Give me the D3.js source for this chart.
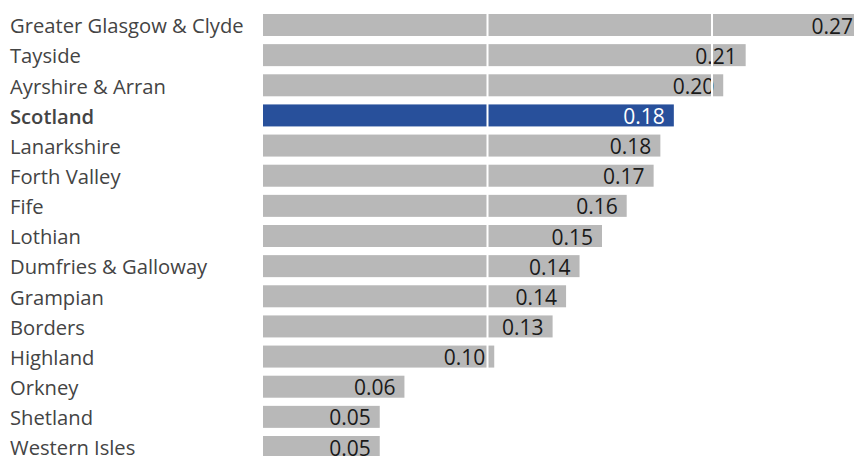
<!DOCTYPE html>
<html>
<head>
<meta charset="utf-8">
<script src="https://cdn.jsdelivr.net/npm/d3@7"></script>
<style>
  body { margin: 0; background: #fff; }
  svg { display: block; }
</style>
</head>
<body>
<svg id="chart" width="854" height="456"></svg>
<script>
const boards = ["Greater Glasgow & Clyde", "Tayside", "Ayrshire & Arran", "Scotland", "Lanarkshire",
  "Forth Valley", "Fife", "Lothian", "Dumfries & Galloway", "Grampian", "Borders", "Highland",
  "Orkney", "Shetland", "Western Isles"]
const rates = [0.272, 0.215, 0.205, 0.183, 0.177, 0.174, 0.162, 0.151, 0.141, 0.135, 0.129, 0.103, 0.063, 0.052, 0.052]
const gridTicks = [0.1, 0.2]
const highlight = "Scotland"

const svg = d3.select("#chart")
const width = +svg.attr("width")
const data = boards.map((b, i) => ({ name: b, value: rates[i] }))

const x = d3.scaleLinear().domain([0, 0.2]).range([263, 712])
const y = d3.scaleBand().domain(boards).range([14, 458]).paddingInner(0.27).paddingOuter(0)

// category names on the left
svg.append("g").selectAll("text")
  .data(data)
  .join("text")
    .attr("x", 10)
    .attr("y", d => y(d.name) + y.bandwidth() - 2.7)
    .attr("font-family", "'Open Sans', sans-serif")
    .attr("font-size", 20.2)
    .attr("font-weight", d => d.name === highlight ? 600 : "normal")
    .attr("fill", "#444")
    .text(d => d.name)

svg.append("g").selectAll("rect")
  .data(data)
  .join("rect")
    .attr("x", x(0))
    .attr("y", d => y(d.name))
    .attr("width", d => x(d.value) - x(0))
    .attr("height", y.bandwidth())
    .attr("fill", d => d.name === highlight ? "#28509b" : "#b8b8b8")

svg.append("g").selectAll("text")
  .data(data)
  .join("text")
    .attr("x", d => Math.min(x(d.value) - 9, width - 1))
    .attr("y", d => y(d.name) + y.bandwidth() - 2.5)
    .attr("text-anchor", "end")
    .attr("font-family", "'Open Sans', sans-serif")
    .attr("font-size", 21)
    .attr("fill", d => d.name === highlight ? "#fff" : "#1a1a1a")
    .text(d => d3.format(".2f")(d.value))

// white gridlines sit over bars and labels
svg.append("g").selectAll("line")
  .data(gridTicks)
  .join("line")
    .attr("x1", d => x(d)).attr("x2", d => x(d))
    .attr("y1", y.range()[0]).attr("y2", y.range()[1])
    .attr("stroke", "#fff")
    .attr("stroke-width", 2)
</script>
</body>
</html>
